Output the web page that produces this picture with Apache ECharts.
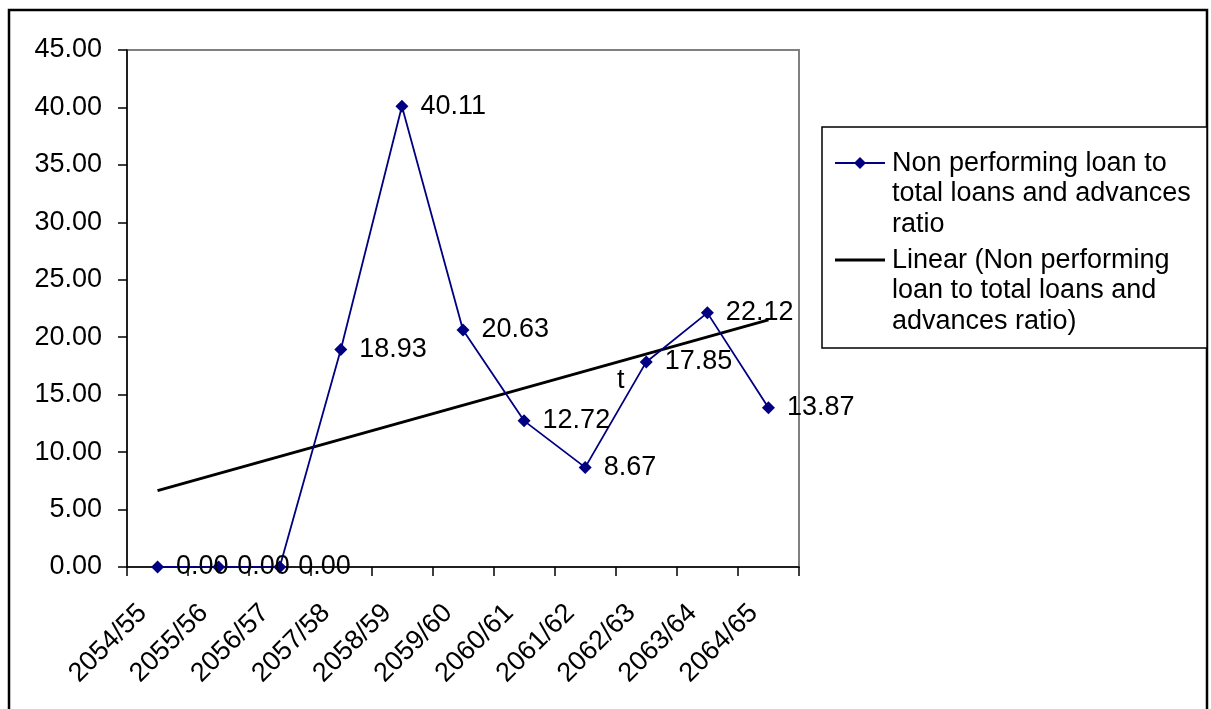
<!DOCTYPE html>
<html>
<head>
<meta charset="utf-8">
<title>Non performing loan ratio</title>
<script src="https://cdn.jsdelivr.net/npm/echarts@6/dist/echarts.min.js"></script>
<style>
  html, body { margin: 0; padding: 0; background: #fff; }
  #chart { width: 1211px; height: 709px; }
</style>
</head>
<body>
<div id="chart"></div>
<script>
// Fiscal years (Nepali calendar)
const categories = ['2054/55', '2055/56', '2056/57', '2057/58', '2058/59', '2059/60',
                    '2060/61', '2061/62', '2062/63', '2063/64', '2064/65'];
// Non performing loan to total loans and advances ratio (%)
const npaRatio = [0.00, 0.00, 0.00, 18.93, 40.11, 20.63, 12.72, 8.67, 17.85, 22.12, 13.87];
// Linear trend line values at the first and last year
const trendEnds = [6.65, 21.51];
// Y axis ticks
const yTicks = [0, 5, 10, 15, 20, 25, 30, 35, 40, 45];

const seriesName = 'Non performing loan to total loans and advances ratio';
const trendName = 'Linear (Non performing loan to total loans and advances ratio)';
const FONT = '"Liberation Sans", Arial, sans-serif';
const NAVY = '#000080';

const chart = echarts.init(document.getElementById('chart'), null, { renderer: 'canvas' });

const trendData = [
  [categories[0], trendEnds[0]],
  [categories[categories.length - 1], trendEnds[1]]
];

chart.setOption({
  backgroundColor: '#ffffff',
  animation: false,
  textStyle: { fontFamily: FONT },
  grid: {
    left: 127, right: 412, top: 50, bottom: 142,
    show: true, borderColor: '#808080', borderWidth: 2, backgroundColor: 'transparent'
  },
  xAxis: {
    type: 'category',
    data: categories,
    boundaryGap: true,
    axisLine: { lineStyle: { color: '#000', width: 1.5 } },
    axisTick: { show: true, length: 9, lineStyle: { color: '#000', width: 1.5 } },
    axisLabel: {
      rotate: 45, margin: 27, color: '#000', fontSize: 27, fontFamily: FONT,
      interval: 0, padding: [0, 21, 0, 0]
    },
    splitLine: { show: false }
  },
  yAxis: {
    type: 'value',
    min: yTicks[0],
    max: yTicks[yTicks.length - 1],
    interval: 5,
    axisLine: { show: true, lineStyle: { color: '#000', width: 1.5 } },
    axisTick: { show: true, length: 9, lineStyle: { color: '#000', width: 1.5 } },
    axisLabel: {
      margin: 25, color: '#000', fontSize: 27, fontFamily: FONT,
      formatter: v => v.toFixed(2)
    },
    splitLine: { show: false }
  },
  series: [
    {
      name: trendName,
      type: 'line',
      data: trendData,
      symbol: 'none',
      lineStyle: { color: '#000', width: 3 },
      z: 2,
      silent: true
    },
    {
      name: seriesName,
      type: 'line',
      data: npaRatio,
      symbol: 'diamond',
      symbolSize: 13,
      itemStyle: { color: NAVY },
      lineStyle: { color: NAVY, width: 1.8 },
      z: 3,
      label: {
        show: true,
        position: 'right',
        distance: 12,
        color: '#000',
        fontSize: 27,
        fontFamily: FONT,
        formatter: p => p.value.toFixed(2)
      }
    }
  ],
  graphic: [
    // chart frame
    { type: 'rect', shape: { x: 9, y: 10, width: 1198, height: 720 },
      style: { fill: 'none', stroke: '#000', lineWidth: 2.5 }, silent: true },
    // legend box
    { type: 'rect', shape: { x: 822, y: 127, width: 385, height: 221 },
      style: { fill: '#fff', stroke: '#000', lineWidth: 1.5 }, silent: true },
    { type: 'line', shape: { x1: 835, y1: 163, x2: 885, y2: 163 },
      style: { stroke: NAVY, lineWidth: 1.8 }, silent: true },
    { type: 'polygon', shape: { points: [[860, 157], [866, 163], [860, 169], [854, 163]] },
      style: { fill: NAVY }, silent: true },
    { type: 'text', x: 892, y: 148, silent: true,
      style: { text: 'Non performing loan to\ntotal loans and advances\nratio',
               font: '27px ' + FONT, fill: '#000', lineHeight: 30.5 } },
    { type: 'line', shape: { x1: 835, y1: 260, x2: 885, y2: 260 },
      style: { stroke: '#000', lineWidth: 3 }, silent: true },
    { type: 'text', x: 892, y: 245, silent: true,
      style: { text: 'Linear (Non performing\nloan to total loans and\nadvances ratio)',
               font: '27px ' + FONT, fill: '#000', lineHeight: 30.5 } },
    // stray glyph inside the plot
    { type: 'text', x: 617, y: 367, silent: true,
      style: { text: 't', font: '27px ' + FONT, fill: '#000' } }
  ]
});
</script>
</body>
</html>
